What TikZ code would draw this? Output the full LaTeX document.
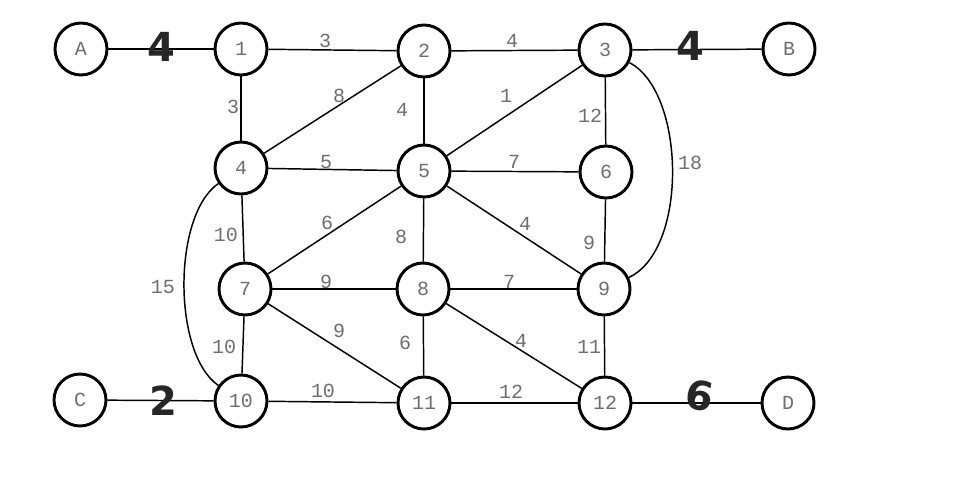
\documentclass[tikz,border=0pt]{standalone}
\usepackage{fontspec}
\newfontfamily\labelfont{Liberation Mono}
\newfontfamily\penfont{DejaVu Sans}
\definecolor{lblgray}{RGB}{110,110,110}
\tikzset{every picture/.style={line width=0.75pt}}
\tikzset{
  vertex/.style={circle,draw=black,line width=2.2pt,fill=white,minimum size=39pt,inner sep=0pt,
    font=\labelfont\fontsize{15}{15}\selectfont,text=lblgray},
  weight/.style={inner sep=0.75pt,font=\labelfont\fontsize{15}{15}\selectfont,text=lblgray},
  pennum/.style={inner sep=0.75pt,font=\penfont\bfseries\fontsize{30}{30}\selectfont,text=black!85},
  edge/.style={line width=1.1pt}
}

\begin{document}
\begin{tikzpicture}[x=0.75pt,y=0.75pt,yscale=-1,xscale=1]
\useasboundingbox (0,0) rectangle (958,489);

% Vertices
\node [vertex] (nA) at (81,49) {A};
\node [vertex] (n1) at (241,49) {1};
\node [vertex] (n2) at (424,51) {2};
\node [vertex] (n3) at (605,50) {3};
\node [vertex] (nB) at (789,49) {B};
\node [vertex] (n4) at (241,168) {4};
\node [vertex] (n5) at (424,171) {5};
\node [vertex] (n6) at (606,172) {6};
\node [vertex] (n7) at (245,289) {7};
\node [vertex] (n8) at (423,289) {8};
\node [vertex] (n9) at (604,289) {9};
\node [vertex] (nC) at (80,400) {C};
\node [vertex] (n10) at (241,401) {10};
\node [vertex] (n11) at (424,403) {11};
\node [vertex] (n12) at (605,403) {12};
\node [vertex] (nD) at (788,403) {D};

% Edges
\draw [edge] (nA) -- (n1);
\draw [edge] (n1) -- (n2);
\draw [edge] (n2) -- (n3);
\draw [edge] (n3) -- (nB);
\draw [edge] (n1) -- (n4);
\draw [edge] (n4) -- (n2);
\draw [edge] (n2) -- (n5);
\draw [edge] (n3) -- (n5);
\draw [edge] (n3) -- (n6);
\draw [edge] (n4) -- (n5);
\draw [edge] (n5) -- (n6);
\draw [edge] (n4) -- (n7);
\draw [edge] (n5) -- (n7);
\draw [edge] (n5) -- (n8);
\draw [edge] (n5) -- (n9);
\draw [edge] (n6) -- (n9);
\draw [edge] (n7) -- (n8);
\draw [edge] (n8) -- (n9);
\draw [edge] (n7) -- (n11);
\draw [edge] (n7) -- (n10);
\draw [edge] (n8) -- (n11);
\draw [edge] (n8) -- (n12);
\draw [edge] (n9) -- (n12);
\draw [edge] (nC) -- (n10);
\draw [edge] (n10) -- (n11);
\draw [edge] (n11) -- (n12);
\draw [edge] (n12) -- (nD);
% Curved edges (yscale=-1, so angles are mirrored)
\draw [edge] (n4) to[out=127,in=233,looseness=0.8] (n10);
\draw [edge] (n3) to[out=45,in=-42,looseness=0.8] (n9);

% Weights
\node [weight] (w12) at (325,41) {3};
\node [weight] (w23) at (512,41) {4};
\node [weight] (w14) at (233,107) {3};
\node [weight] (w42) at (339,96) {8};
\node [weight] (w25) at (402,110) {4};
\node [weight] (w35) at (506,96) {1};
\node [weight] (w36) at (590,116) {12};
\node [weight] (w39) at (690,163) {18};
\node [weight] (w45) at (326,162) {5};
\node [weight] (w56) at (514,162) {7};
\node [weight] (w47) at (226,235) {10};
\node [weight] (w57) at (327,223) {6};
\node [weight] (w58) at (401,237) {8};
\node [weight] (w59) at (525,224) {4};
\node [weight] (w69) at (589,243) {9};
\node [weight] (w410) at (163,287) {15};
\node [weight] (w78) at (326,282) {9};
\node [weight] (w89) at (509,282) {7};
\node [weight] (w711) at (339,331) {9};
\node [weight] (w710) at (224,347) {10};
\node [weight] (w811) at (405,343) {6};
\node [weight] (w812) at (521,341) {4};
\node [weight] (w912) at (589,347) {11};
\node [weight] (w1011) at (323,391) {10};
\node [weight] (w1112) at (511,392) {12};

% Handwritten weights
\node [pennum] (pA1) at (161,47) {4};
\node [pennum] (p3B) at (690,46) {4};
\node [pennum] (pC10) at (163,401) {2};
\node [pennum,rotate=-10] (p12D) at (700,396) {6};

\end{tikzpicture}
\end{document}
